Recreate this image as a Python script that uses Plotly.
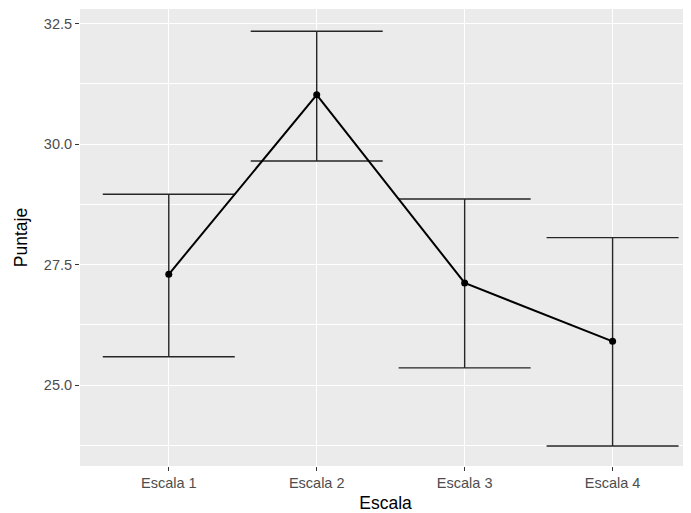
import plotly.graph_objects as go

categories = ["Escala 1", "Escala 2", "Escala 3", "Escala 4"]
means = [27.30, 31.02, 27.12, 25.91]
upper = [28.96, 32.34, 28.86, 28.06]
lower = [25.59, 29.65, 25.36, 23.74]

xpos = list(range(1, len(categories) + 1))
err_plus = [u - m for u, m in zip(upper, means)]
err_minus = [m - l for m, l in zip(means, lower)]

fig = go.Figure()
# error bars
fig.add_trace(go.Scatter(
    x=xpos, y=means, mode="markers",
    marker=dict(size=1, color="rgba(0,0,0,0)"),
    error_y=dict(type="data", symmetric=False, array=err_plus, arrayminus=err_minus,
                 color="#262626", thickness=1.4, width=66),
    showlegend=False, hoverinfo="skip"))
# line + points
fig.add_trace(go.Scatter(
    x=xpos, y=means, mode="lines+markers",
    line=dict(color="black", width=2),
    marker=dict(size=7, color="black"),
    showlegend=False))

font_family = "Liberation Sans, Arial, sans-serif"
# page body has an 8px margin, so the figure is sized to fit the 691x513 window
fig.update_layout(
    width=683, height=505,
    margin=dict(l=72, r=0, t=1, b=47, autoexpand=False),
    paper_bgcolor="white", plot_bgcolor="#EBEBEB",
    font=dict(family=font_family),
    xaxis=dict(
        range=[0.4, 4.53], tickvals=xpos, ticktext=categories,
        showgrid=True, gridcolor="white", gridwidth=1.2, zeroline=False,
        ticks="outside", ticklen=4, tickcolor="#333333", tickwidth=1,
        tickfont=dict(size=14.5, color="#4D4D4D", family=font_family),
        title=dict(text="Escala", font=dict(size=17.5, color="black", family=font_family), standoff=8),
        showline=False,
    ),
    yaxis=dict(
        range=[23.325, 32.80], tickvals=[25.0, 27.5, 30.0, 32.5],
        ticktext=["25.0", "27.5", "30.0", "32.5"],
        showgrid=True, gridcolor="white", gridwidth=1.2, zeroline=False,
        ticks="outside", ticklen=4, tickcolor="#333333", tickwidth=1,
        tickfont=dict(size=14.5, color="#4D4D4D", family=font_family),
        title=dict(text="Puntaje", font=dict(size=17.5, color="black", family=font_family), standoff=11),
        minor=dict(tickvals=[23.75, 26.25, 28.75, 31.25], showgrid=True,
                   gridcolor="white", gridwidth=0.6, ticks=""),
        showline=False,
    ),
)

fig.write_html("out.html")
